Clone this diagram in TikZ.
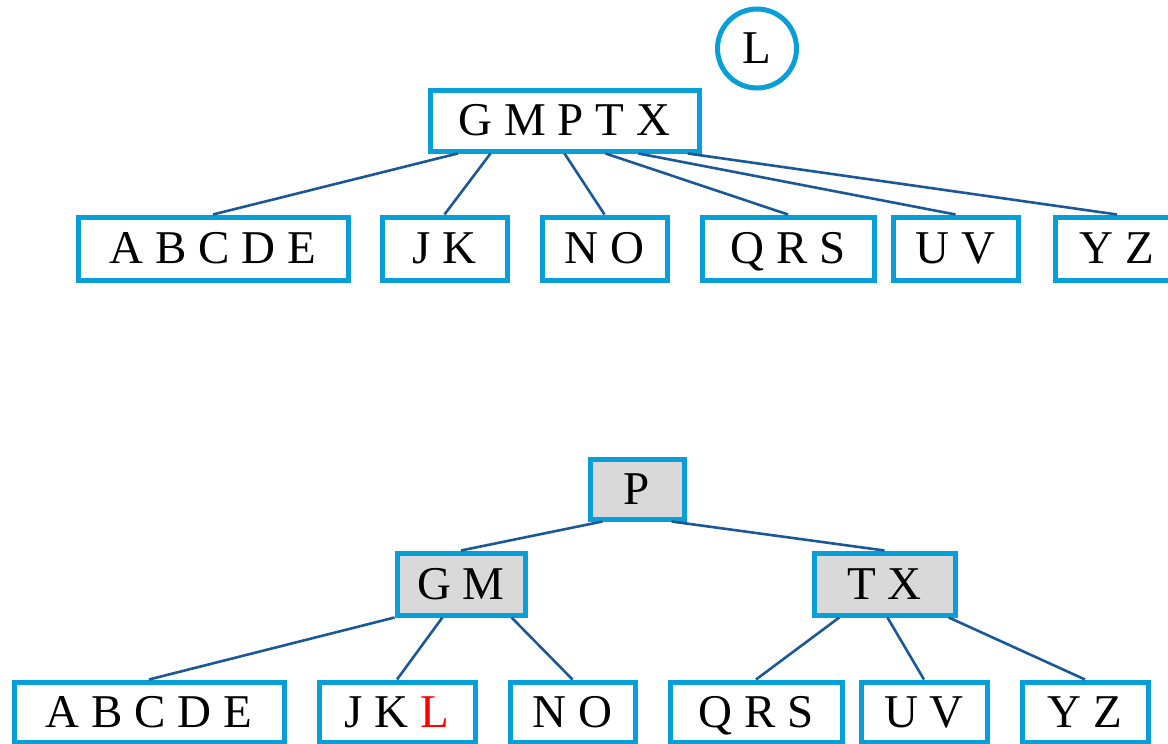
\documentclass[tikz,border=0pt]{standalone}
\usepackage{fontspec}
\setmainfont{Liberation Serif}
\usetikzlibrary{calc}
\definecolor{boxblue}{RGB}{8,158,216}
\definecolor{linkblue}{RGB}{28,88,150}
\definecolor{keygray}{RGB}{217,217,217}
\tikzset{
  key/.style={draw=boxblue, line width=5pt, rectangle, fill=white, inner sep=0pt,
    font=\fontsize{47}{50}\selectfont, text height=30pt, text depth=0pt, align=center},
  inner/.style={key, fill=keygray},
  newkey/.style={draw=boxblue, line width=5pt, circle, fill=white, inner sep=0pt,
    minimum size=79pt, font=\fontsize{47}{50}\selectfont, text height=30pt, text depth=0pt},
  link/.style={draw=linkblue, line width=2.6pt}
}
\begin{document}
\begin{tikzpicture}[x=1pt,y=-1pt]
\useasboundingbox (0,0) rectangle (1168,744);
\fill[white] (0,0) rectangle (1168,744);
% ---------- top tree ----------
\node[newkey] (newL) at (757,48.5) {L};
\node[key, minimum width=269pt, minimum height=61pt] (root) at (564.5,120.5) {G M P T X};
\node[key, minimum width=270pt, minimum height=63pt] (a1) at (213,248.5) {A B C D E};
\node[key, minimum width=125pt, minimum height=63pt] (a2) at (444.5,248.5) {J K};
\node[key, minimum width=125pt, minimum height=63pt] (a3) at (604.5,248.5) {N O};
\node[key, minimum width=172pt, minimum height=63pt] (a4) at (788,248.5) {Q R S};
\node[key, minimum width=125pt, minimum height=63pt] (a5) at (955.5,248.5) {U V};
\node[key, minimum width=124pt, minimum height=63pt] (a6) at (1117,248.5) {Y Z};
\draw[link] ($(root.south west)!0.11!(root.south east)$) -- (a1.north);
\draw[link] ($(root.south west)!0.23!(root.south east)$) -- (a2.north);
\draw[link] ($(root.south west)!0.50!(root.south east)$) -- (a3.north);
\draw[link] ($(root.south west)!0.65!(root.south east)$) -- (a4.north);
\draw[link] ($(root.south west)!0.77!(root.south east)$) -- (a5.north);
\draw[link] ($(root.south west)!0.95!(root.south east)$) -- (a6.north);
% ---------- bottom tree ----------
\node[inner, minimum width=94pt, minimum height=60pt] (p) at (637,489) {P};
\node[inner, minimum width=128pt, minimum height=62pt] (gm) at (461,584) {G M};
\node[inner, minimum width=141pt, minimum height=62pt] (tx) at (884.5,584) {T X};
\node[key, minimum width=270pt, minimum height=60pt] (b1) at (149,712) {A B C D E};
\node[key, minimum width=156pt, minimum height=60pt] (b2) at (397,712) {J K \textcolor{red}{L}};
\node[key, minimum width=125pt, minimum height=60pt] (b3) at (572.5,712) {N O};
\node[key, minimum width=172pt, minimum height=60pt] (b4) at (756,712) {Q R S};
\node[key, minimum width=126pt, minimum height=60pt] (b5) at (924,712) {U V};
\node[key, minimum width=126pt, minimum height=60pt] (b6) at (1085,712) {Y Z};
\draw[link] ($(p.south west)!0.15!(p.south east)$) -- (gm.north);
\draw[link] ($(p.south west)!0.85!(p.south east)$) -- (tx.north);
\draw[link] ($(gm.south west)!0.0!(gm.south east)$) -- (b1.north);
\draw[link] ($(gm.south west)!0.36!(gm.south east)$) -- (b2.north);
\draw[link] ($(gm.south west)!0.88!(gm.south east)$) -- (b3.north);
\draw[link] ($(tx.south west)!0.19!(tx.south east)$) -- (b4.north);
\draw[link] ($(tx.south west)!0.52!(tx.south east)$) -- (b5.north);
\draw[link] ($(tx.south west)!0.94!(tx.south east)$) -- (b6.north);
\end{tikzpicture}
\end{document}
